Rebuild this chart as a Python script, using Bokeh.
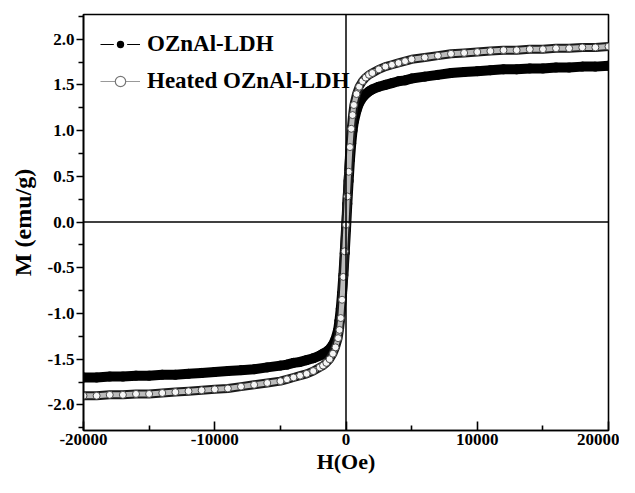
from bokeh.plotting import figure
from bokeh.models import FixedTicker, PrintfTickFormatter, Span, Legend, LegendItem
from bokeh.embed import file_html
from bokeh.resources import INLINE

# Field H (Oe)
H = [-20000, -19000, -18000, -17000, -16000, -15000, -14000, -13000, -12000, -11000,
     -10000, -9000, -8000, -7000, -6000, -5000, -4500, -4000, -3500, -3000, -2500,
     -2000, -1750, -1500, -1250, -1000, -800, -600, -500, -400, -300, -200, -100,
     0, 100, 200, 300, 400, 500, 600, 800, 1000, 1250, 1500, 1750, 2000, 2500,
     3000, 3500, 4000, 4500, 5000, 6000, 7000, 8000, 9000, 10000, 11000, 12000,
     13000, 14000, 15000, 16000, 17000, 18000, 19000, 20000]

# OZnAl-LDH magnetisation (emu/g)
M_oznal = [-1.70, -1.70, -1.69, -1.69, -1.68, -1.68, -1.67, -1.67, -1.66, -1.65,
           -1.64, -1.63, -1.62, -1.61, -1.59, -1.57, -1.56, -1.54, -1.53, -1.51, -1.49,
           -1.46, -1.44, -1.42, -1.39, -1.34, -1.28, -1.18, -1.08, -0.95, -0.78, -0.58, -0.34,
           -0.08, 0.20, 0.45, 0.68, 0.86, 1.00, 1.10, 1.22, 1.30, 1.36, 1.40, 1.43, 1.45, 1.48,
           1.50, 1.52, 1.54, 1.55, 1.57, 1.59, 1.61, 1.63, 1.64, 1.65, 1.66, 1.67,
           1.67, 1.68, 1.68, 1.69, 1.69, 1.70, 1.70, 1.71]

# Heated OZnAl-LDH magnetisation (emu/g)
M_heated = [-1.90, -1.90, -1.89, -1.89, -1.88, -1.88, -1.87, -1.86, -1.85, -1.84,
            -1.83, -1.82, -1.80, -1.78, -1.76, -1.74, -1.72, -1.70, -1.68, -1.66, -1.63,
            -1.59, -1.57, -1.54, -1.50, -1.44, -1.37, -1.27, -1.18, -1.05, -0.85, -0.60, -0.32,
            -0.03, 0.28, 0.55, 0.82, 1.02, 1.17, 1.28, 1.40, 1.48, 1.54, 1.58, 1.61, 1.63, 1.67,
            1.70, 1.72, 1.74, 1.76, 1.78, 1.80, 1.82, 1.84, 1.85, 1.86, 1.87, 1.88,
            1.88, 1.89, 1.89, 1.90, 1.90, 1.91, 1.91, 1.92]

x_major = [-20000, -10000, 0, 10000, 20000]
x_minor = [-15000, -5000, 5000, 15000]
y_major = [-2.0, -1.5, -1.0, -0.5, 0.0, 0.5, 1.0, 1.5, 2.0]
y_minor = [-2.25, -1.75, -1.25, -0.75, -0.25, 0.25, 0.75, 1.25, 1.75, 2.25]

series_names = ["OZnAl-LDH", "Heated OZnAl-LDH"]

FONT = "Liberation Serif"

p = figure(width=619, height=477, x_range=(-20000, 20000), y_range=(-2.28, 2.27),
           output_backend="svg", toolbar_location=None,
           min_border_left=83, min_border_right=11, min_border_top=14, min_border_bottom=47)
p.grid.visible = False
p.outline_line_color = "black"
p.outline_line_width = 1.6

# OZnAl-LDH (filled black)
p.line(H, M_oznal, line_color="black", line_width=10)
p.scatter(H, M_oznal, size=9, marker="circle", fill_color="black", line_color="black")

# Heated (open circles)
p.line(H, M_heated, line_color="#1a1a1a", line_width=9)
p.line(H, M_heated, line_color="#bcbcbc", line_width=5)
p.scatter(H, M_heated, size=7, marker="circle", fill_color="#f6f6f6", line_color="#4a4a4a", line_width=1)

p.add_layout(Span(location=0, dimension="height", line_color="black", line_width=1.5))
p.add_layout(Span(location=0, dimension="width", line_color="black", line_width=1.5))

# legend-only renderers (placed far outside the visible range)
l1 = p.line([-1e7, -1e7 + 1], [0, 0], line_color="black", line_width=1.2)
s1 = p.scatter([-1e7], [0], size=12, marker="circle", fill_color="black", line_color="white", line_width=3)
l2 = p.line([-1e7, -1e7 + 1], [0, 0], line_color="#999999", line_width=1.2)
s2 = p.scatter([-1e7], [0], size=9, marker="circle", fill_color="white", line_color="#777777", line_width=1.2)
legend = Legend(items=[LegendItem(label=series_names[0], renderers=[l1, s1]),
                       LegendItem(label=series_names[1], renderers=[l2, s2])],
                location="top_left", border_line_color=None, background_fill_alpha=0,
                label_text_font=FONT, label_text_font_style="bold", label_text_font_size="23px",
                label_text_color="black", label_height=26,
                glyph_width=40, glyph_height=26, spacing=11, padding=4, margin=17,
                label_standoff=7)
p.add_layout(legend)

xa = p.xaxis[0]
xa.ticker = FixedTicker(ticks=x_major, minor_ticks=x_minor)
xa.formatter = PrintfTickFormatter(format="%d")
xa.major_tick_in = 9
xa.major_tick_out = 0
xa.minor_tick_in = 5
xa.minor_tick_out = 0
xa.axis_label = "H(Oe)"

ya = p.yaxis[0]
ya.ticker = FixedTicker(ticks=y_major, minor_ticks=y_minor)
ya.formatter = PrintfTickFormatter(format="%.1f")
ya.major_tick_in = 0
ya.major_tick_out = 7
ya.minor_tick_in = 0
ya.minor_tick_out = 5
ya.axis_label = "M (emu/g)"

for ax in (xa, ya):
    ax.axis_line_width = 1.6
    ax.major_tick_line_width = 1.6
    ax.minor_tick_line_width = 1.6
    ax.major_label_text_font = FONT
    ax.major_label_text_font_style = "bold"
    ax.major_label_text_font_size = "17px"
    ax.major_label_text_color = "black"
    ax.axis_label_text_font = FONT
    ax.axis_label_text_font_style = "bold"
    ax.axis_label_text_color = "black"
xa.axis_label_text_font_size = "22px"
ya.axis_label_text_font_size = "24px"
xa.major_label_standoff = 3
xa.axis_label_standoff = 1
ya.major_label_standoff = 2
ya.axis_label_standoff = 9

open("out.html", "w").write(file_html(p, INLINE))
